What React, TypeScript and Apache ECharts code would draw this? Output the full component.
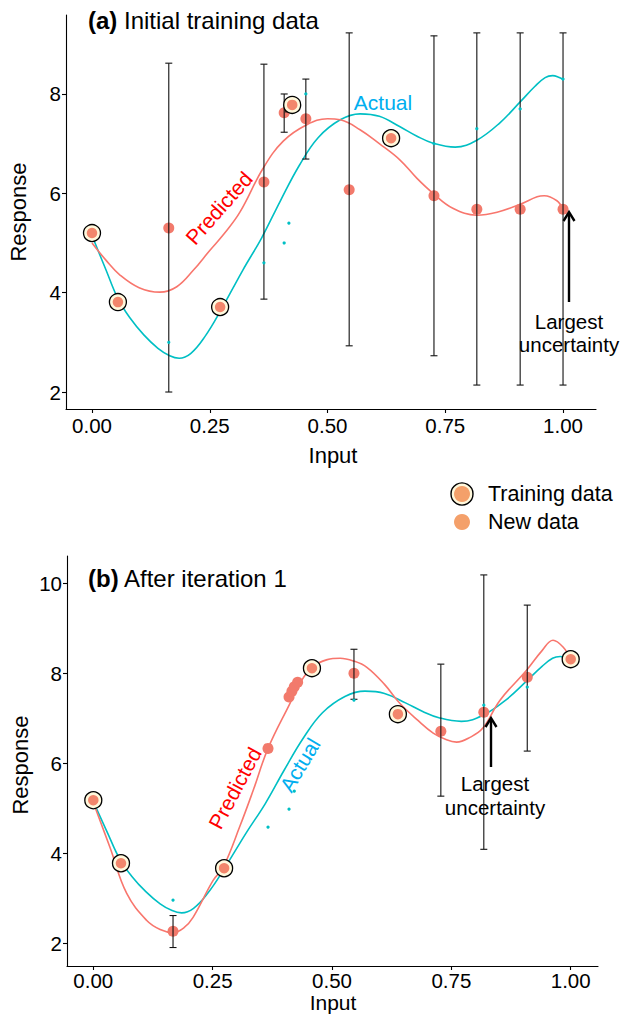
import React, { useEffect, useRef } from 'react';
import * as echarts from 'echarts';

const FONT = '"Liberation Sans", Arial, Helvetica, sans-serif';

// ---------- shared tick labels ----------
const xTickValues = [0, 0.25, 0.5, 0.75, 1];
const yTickTop = [2, 4, 6, 8];
const yTickBottom = [2, 4, 6, 8, 10];

// ---------- true (actual) function ----------
const actualCurve = [
  [0, 5.15], [0.03, 4.45], [0.055, 3.88], [0.08, 3.5], [0.11, 3.15], [0.14, 2.88],
  [0.165, 2.73], [0.185, 2.68], [0.21, 2.78], [0.24, 3.12], [0.272, 3.62], [0.32, 4.45],
  [0.36, 5.1], [0.4, 5.85], [0.44, 6.56], [0.48, 7.12], [0.527, 7.48], [0.569, 7.6],
  [0.61, 7.55], [0.654, 7.34], [0.69, 7.15], [0.724, 7.01], [0.771, 6.93], [0.817, 7.07],
  [0.866, 7.42], [0.909, 7.84], [0.94, 8.15], [0.962, 8.33], [0.978, 8.37], [0.992, 8.33], [1.0, 8.29],
];

// ---------- panel (a) ----------
const topPredCurve = [
  [0, 5.0], [0.03, 4.65], [0.06, 4.35], [0.1, 4.1], [0.144, 4.01], [0.18, 4.12],
  [0.215, 4.45], [0.25, 4.85], [0.28, 5.18], [0.314, 5.62], [0.363, 6.5], [0.406, 7.05],
  [0.456, 7.38], [0.5, 7.5], [0.527, 7.48], [0.569, 7.28], [0.61, 7.0], [0.654, 6.67],
  [0.69, 6.3], [0.724, 6.0], [0.766, 5.7], [0.817, 5.56], [0.86, 5.62], [0.909, 5.78],
  [0.945, 5.93], [0.96, 5.95], [0.987, 5.85], [1.0, 5.68],
];
const topTraining = [[0, 5.2], [0.055, 3.81], [0.272, 3.71], [0.425, 7.78], [0.635, 7.11]];
const topNewPred = [
  [0.163, 5.3], [0.365, 6.23], [0.408, 7.62], [0.454, 7.5], [0.546, 6.07],
  [0.726, 5.95], [0.817, 5.68], [0.909, 5.68], [1.0, 5.68],
];
const topActualPts = [
  [0.163, 3.0], [0.365, 4.6], [0.408, 5.0], [0.418, 5.4], [0.454, 8.0],
  [0.726, 7.0], [0.817, 7.3], [0.909, 7.7], [1.0, 8.3],
];
const topErrorBars = [
  [0.163, 2.0, 8.62], [0.365, 3.87, 8.6], [0.408, 7.23, 8.0], [0.417, 7.64, 7.86],
  [0.454, 6.69, 8.3], [0.546, 2.93, 9.23], [0.726, 2.73, 9.17], [0.817, 2.14, 9.23],
  [0.909, 2.14, 9.23], [1.0, 2.14, 9.23],
];

// ---------- panel (b) ----------
const botPredCurve = [
  [0, 5.13], [0.035, 4.13], [0.07, 3.11], [0.112, 2.51], [0.14, 2.31], [0.167, 2.24],
  [0.19, 2.35], [0.209, 2.58], [0.251, 3.4], [0.272, 3.69], [0.307, 4.6], [0.335, 5.4],
  [0.366, 6.33], [0.412, 7.33], [0.433, 7.78], [0.458, 8.13], [0.49, 8.3], [0.517, 8.33],
  [0.545, 8.27], [0.573, 8.13], [0.61, 7.75], [0.642, 7.33], [0.68, 6.95], [0.712, 6.67],
  [0.74, 6.52], [0.761, 6.47], [0.79, 6.58], [0.816, 6.78], [0.852, 7.4], [0.908, 8.07],
  [0.94, 8.5], [0.963, 8.73], [0.984, 8.58], [1.0, 8.31],
];
const botTraining = [[0, 5.18], [0.058, 3.78], [0.274, 3.67], [0.458, 8.11], [0.638, 7.09], [1.0, 8.31]];
const botNewPred = [
  [0.167, 2.27], [0.366, 6.33], [0.41, 7.47], [0.416, 7.6], [0.421, 7.7], [0.428, 7.8],
  [0.546, 8.0], [0.728, 6.71], [0.818, 7.13], [0.909, 7.91],
];
const botActualPts = [
  [0.167, 2.96], [0.366, 4.58], [0.41, 4.98], [0.421, 5.38], [0.546, 7.4],
  [0.818, 7.29], [0.909, 7.69],
];
const botErrorBars = [
  [0.167, 1.91, 2.62], [0.546, 7.42, 8.53], [0.728, 5.27, 8.2],
  [0.818, 4.09, 10.18], [0.909, 6.27, 9.51],
];

// ---------- styling ----------
const PRED_LINE = '#F8766D';
const ACT_LINE = '#00BFC4';
const PRED_DOT = '#F27A6C';
const TRAIN_DOT = '#F2866C';
const TRAIN_FILL = '#FFF8DC';
const LEGEND_DOT = '#F4A06A';
const ACTUAL_TEXT = '#00AEEF';

function xAxis(gridIndex: number, min: number, max: number, margin: number) {
  return {
    type: 'value', gridIndex, min, max,
    splitLine: { show: false },
    axisLine: { show: true, onZero: false, lineStyle: { color: '#000', width: 1.1 } },
    axisTick: { show: true, length: 4, customValues: xTickValues, lineStyle: { color: '#000', width: 1.1 } },
    axisLabel: {
      customValues: xTickValues, margin, color: '#000', fontSize: 20.5, fontFamily: FONT,
      lineHeight: 18, formatter: (v: number) => v.toFixed(2),
    },
  };
}
function yAxis(gridIndex: number, min: number, max: number, ticks: number[]) {
  return {
    type: 'value', gridIndex, min, max,
    splitLine: { show: false },
    axisLine: { show: true, onZero: false, lineStyle: { color: '#000', width: 1.1 } },
    axisTick: { show: true, length: 4, customValues: ticks, lineStyle: { color: '#000', width: 1.1 } },
    axisLabel: { customValues: ticks, margin: 5, color: '#000', fontSize: 20.5, fontFamily: FONT },
  };
}

function errorBarSeries(idx: number, data: number[][]) {
  return {
    type: 'custom', xAxisIndex: idx, yAxisIndex: idx, z: 4,
    encode: { x: 0, y: [1, 2] },
    data,
    renderItem: (_p: any, api: any) => {
      const x = api.value(0);
      const hi = api.coord([x, api.value(2)]);
      const lo = api.coord([x, api.value(1)]);
      const w = 3.5;
      const st = { stroke: '#111', lineWidth: 1.1 };
      return {
        type: 'group',
        children: [
          { type: 'line', shape: { x1: hi[0], y1: hi[1], x2: lo[0], y2: lo[1] }, style: st },
          { type: 'line', shape: { x1: hi[0] - w, y1: hi[1], x2: hi[0] + w, y2: hi[1] }, style: st },
          { type: 'line', shape: { x1: lo[0] - w, y1: lo[1], x2: lo[0] + w, y2: lo[1] }, style: st },
        ],
      };
    },
  };
}

function panelSeries(idx: number, pred: number[][], train: number[][], newPred: number[][], actPts: number[][], bars: number[][]) {
  return [
    {
      type: 'line', xAxisIndex: idx, yAxisIndex: idx, data: actualCurve, smooth: 0.4,
      showSymbol: false, lineStyle: { color: ACT_LINE, width: 1.6 }, z: 2,
    },
    {
      type: 'line', xAxisIndex: idx, yAxisIndex: idx, data: pred, smooth: 0.4,
      showSymbol: false, lineStyle: { color: PRED_LINE, width: 1.6 }, z: 2,
    },
    {
      type: 'scatter', xAxisIndex: idx, yAxisIndex: idx, data: newPred, symbolSize: 11,
      itemStyle: { color: PRED_DOT, opacity: 1 }, z: 3,
    },
    errorBarSeries(idx, bars),
    {
      type: 'scatter', xAxisIndex: idx, yAxisIndex: idx, data: actPts, symbolSize: 3.2,
      itemStyle: { color: ACT_LINE, opacity: 1 }, z: 5,
    },
    {
      type: 'scatter', xAxisIndex: idx, yAxisIndex: idx, data: train, symbolSize: 17,
      itemStyle: { color: TRAIN_FILL, borderColor: '#000', borderWidth: 1.3, opacity: 1 }, z: 6,
    },
    {
      type: 'scatter', xAxisIndex: idx, yAxisIndex: idx, data: train, symbolSize: 10.5,
      itemStyle: { color: TRAIN_DOT, opacity: 1 }, z: 7,
    },
  ];
}

function text(x: number, y: number, t: string, opts: any = {}) {
  return {
    type: 'text', x, y, rotation: opts.rotation || 0, z: 20,
    style: {
      text: t, fill: opts.fill || '#000', fontSize: opts.fontSize || 21, fontFamily: FONT,
      align: opts.align || 'center', verticalAlign: 'middle', rich: opts.rich,
      lineHeight: opts.lineHeight,
    },
  };
}
function arrow(x: number, yTail: number, yHead: number) {
  return [
    { type: 'line', z: 20, shape: { x1: x, y1: yTail, x2: x, y2: yHead + 1 }, style: { stroke: '#000', lineWidth: 2.4 } },
    {
      type: 'polyline', z: 20,
      shape: { points: [[x - 5.5, yHead + 9], [x, yHead], [x + 5.5, yHead + 9]] },
      style: { stroke: '#000', lineWidth: 2.4, fill: 'none' },
    },
  ];
}

const deg = Math.PI / 180;
const titleRich = { b: { fontWeight: 'bold', fontSize: 24, fontFamily: FONT } };

const option = {
  animation: false,
  backgroundColor: '#fff',
  grid: [
    { left: 66, top: 15, width: 530, height: 394 },
    { left: 67, top: 556, width: 531, height: 410 },
  ],
  xAxis: [xAxis(0, -0.0552, 1.07, 7), xAxis(1, -0.0551, 1.0572, 5)],
  yAxis: [yAxis(0, 1.658, 9.59, yTickTop), yAxis(1, 1.5, 10.6, yTickBottom)],
  series: [
    ...panelSeries(0, topPredCurve, topTraining, topNewPred, topActualPts, topErrorBars),
    ...panelSeries(1, botPredCurve, botTraining, botNewPred, botActualPts, botErrorBars),
  ],
  graphic: [
    // titles
    text(88, 20, '{b|(a)} Initial training data', { align: 'left', fontSize: 24, rich: titleRich }),
    text(88, 578, '{b|(b)} After iteration 1', { align: 'left', fontSize: 24, rich: titleRich }),
    // axis titles
    text(18, 212, 'Response', { rotation: 90 * deg, fontSize: 22 }),
    text(20, 765, 'Response', { rotation: 90 * deg, fontSize: 22 }),
    text(333, 455, 'Input', { fontSize: 22, lineHeight: 20 }),
    text(333, 1002, 'Input', { fontSize: 21, lineHeight: 18 }),
    // curve labels
    text(383, 102, 'Actual', { fill: ACTUAL_TEXT }),
    text(219, 208, 'Predicted', { fill: '#FF0000', rotation: 48.5 * deg }),
    text(235, 788, 'Predicted', { fill: '#FF0000', rotation: 62 * deg }),
    text(300, 765, 'Actual', { fill: ACTUAL_TEXT, rotation: 59 * deg }),
    // annotations
    text(569, 321, 'Largest', { fontSize: 20.5 }),
    text(569, 344, 'uncertainty', { fontSize: 20.5 }),
    ...arrow(569, 302, 212),
    text(495, 783, 'Largest', { fontSize: 20.5 }),
    text(495, 807, 'uncertainty', { fontSize: 20.5 }),
    ...arrow(491, 767, 718),
    // legend
    { type: 'circle', z: 20, shape: { cx: 462, cy: 494, r: 11 }, style: { fill: TRAIN_FILL, stroke: '#000', lineWidth: 1.4 } },
    { type: 'circle', z: 21, shape: { cx: 462, cy: 494, r: 8 }, style: { fill: LEGEND_DOT } },
    { type: 'circle', z: 20, shape: { cx: 462, cy: 522, r: 8 }, style: { fill: LEGEND_DOT } },
    text(488, 494, 'Training data', { align: 'left', fontSize: 21.5 }),
    text(488, 522, 'New data', { align: 'left', fontSize: 21.5 }),
  ],
};

export default function App() {
  const ref = useRef<HTMLDivElement>(null);
  useEffect(() => {
    document.body.style.margin = '0';
    const chart = echarts.init(ref.current as HTMLDivElement, null, { renderer: 'svg' });
    chart.setOption(option as any);
    return () => chart.dispose();
  }, []);
  return <div ref={ref} style={{ position: 'absolute', left: 0, top: 0, width: 621, height: 1015 }} />;
}
